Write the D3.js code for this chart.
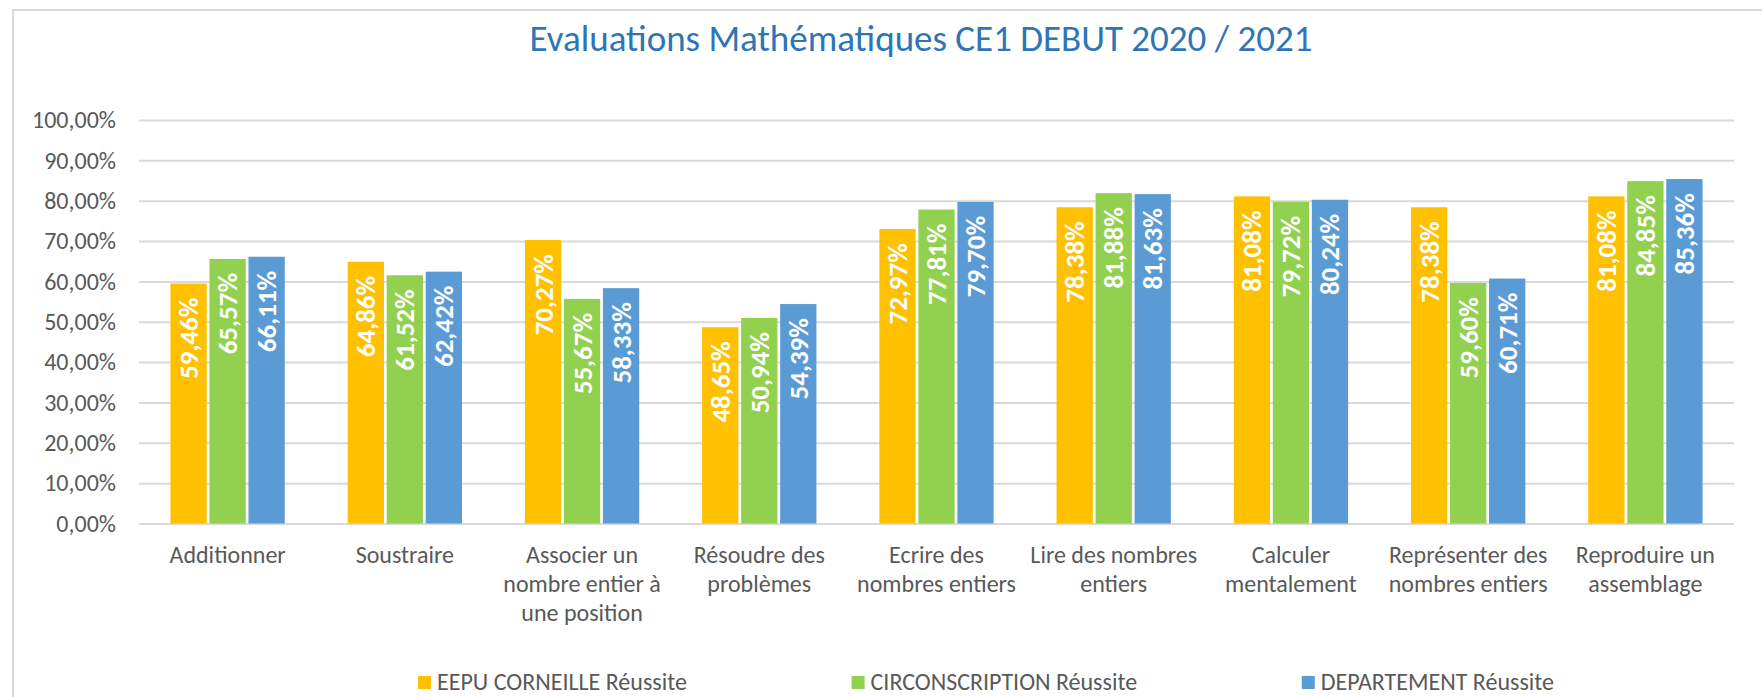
<!DOCTYPE html>
<html>
<head>
<meta charset="utf-8">
<script src="https://cdn.jsdelivr.net/npm/d3@7"></script>
<style>
  body { margin: 0; background: #fff; }
  text { font-family: Carlito, Calibri, Lato, sans-serif; }
</style>
</head>
<body>
<div id="chart"></div>
<script>

/* data */
const categories = [
  "Additionner",
  "Soustraire",
  "Associer un\nnombre entier à\nune position",
  "Résoudre des\nproblèmes",
  "Ecrire des\nnombres entiers",
  "Lire des nombres\nentiers",
  "Calculer\nmentalement",
  "Représenter des\nnombres entiers",
  "Reproduire un\nassemblage"
];
const seriesNames = ["EEPU CORNEILLE Réussite", "CIRCONSCRIPTION Réussite", "DEPARTEMENT Réussite"];
const ecole = [0.5946, 0.6486, 0.7027, 0.4865, 0.7297, 0.7838, 0.8108, 0.7838, 0.8108];
const circo = [0.6557, 0.6152, 0.5567, 0.5094, 0.7781, 0.8188, 0.7972, 0.5960, 0.8485];
const depart = [0.6611, 0.6242, 0.5833, 0.5439, 0.7970, 0.8163, 0.8024, 0.6071, 0.8536];
const yTicks = [0, 0.1, 0.2, 0.3, 0.4, 0.5, 0.6, 0.7, 0.8, 0.9, 1];
const title = "Evaluations Mathématiques CE1 DEBUT 2020 / 2021";

const colors = ["#FFC000", "#92D050", "#5B9BD5"];

/* layout */
let width = 1762;
let height = 697;
let margin = {top: 120, bottom: 173.5, left: 139, right: 28};

const fr = d3.formatLocale({decimal: ",", thousands: " ", grouping: [3], currency: ["", " €"]});
const pct = fr.format(".2%");

let svg = d3.select("#chart")
            .append("svg")
              .attr("width", width)
              .attr("height", height);

// chart frame (cut off on the right and bottom like the screenshot)
svg.append("rect")
   .attr("x", 13).attr("y", 10)
   .attr("width", width + 50).attr("height", height + 50)
   .attr("fill", "#fff")
   .attr("stroke", "#D9D9D9")
   .attr("stroke-width", 2);

svg.append("text")
   .attr("x", 921)
   .attr("y", 51)
   .attr("text-anchor", "middle")
   .attr("fill", "#2E75B6")
   .style("font-size", "37px")
   .text(title);

let x0 = d3.scaleBand()
           .domain(categories)
           .range([margin.left, width - margin.right])
           .paddingInner(0.355)
           .paddingOuter(0.1775);

let x1 = d3.scaleBand()
           .domain(d3.range(3))
           .range([0, x0.bandwidth()])
           .paddingInner(0.07);

let y = d3.scaleLinear()
          .domain([0, 1])
          .range([height - margin.bottom, margin.top]);

// gridlines + y labels
let yAxis = svg.append("g")
               .attr("transform", `translate(${margin.left}, 0)`)
               .call(d3.axisLeft(y)
                       .tickValues(yTicks)
                       .tickFormat(pct)
                       .tickSize(-(width - margin.left - margin.right))
                       .tickPadding(23));
yAxis.select(".domain").remove();
yAxis.selectAll("line").attr("stroke", "#D9D9D9").attr("stroke-width", 2);
yAxis.selectAll("text")
     .attr("fill", "#595959")
     .style("font-size", "24px")
     .style("font-family", "Carlito, Calibri, Lato, sans-serif");

// bars
let table = categories.map((c, i) => ({cat: c, values: [ecole[i], circo[i], depart[i]]}));

let groups = svg.append("g")
                .selectAll("g")
                .data(table)
                .enter()
                .append("g")
                  .attr("transform", d => `translate(${x0(d.cat)}, 0)`);

groups.selectAll("rect")
      .data(d => d.values)
      .enter()
      .append("rect")
        .attr("x", (d, i) => x1(i))
        .attr("y", d => y(d))
        .attr("width", x1.bandwidth())
        .attr("height", d => y(0) - y(d))
        .attr("fill", (d, i) => colors[i]);

groups.selectAll("text")
      .data(d => d.values)
      .enter()
      .append("text")
        .attr("transform", (d, i) => `translate(${x1(i) + x1.bandwidth() / 2}, ${y(d) + 14}) rotate(-90)`)
        .attr("text-anchor", "end")
        .attr("dominant-baseline", "central")
        .attr("fill", "#fff")
        .style("font-size", "27px")
        .style("font-weight", "bold")
        .text(d => pct(d));

// category labels
let catLabels = svg.append("g")
                   .selectAll("text")
                   .data(categories)
                   .enter()
                   .append("text")
                     .attr("x", d => x0(d) + x0.bandwidth() / 2)
                     .attr("y", 563)
                     .attr("text-anchor", "middle")
                     .attr("fill", "#595959")
                     .style("font-size", "24px");

catLabels.selectAll("tspan")
         .data(d => d.split("\n"))
         .enter()
         .append("tspan")
           .attr("x", function() { return this.parentNode.getAttribute("x"); })
           .attr("dy", (d, i) => i === 0 ? 0 : 29)
           .text(d => d);

// legend
let legend = svg.append("g");
let items = legend.selectAll("g")
                  .data(seriesNames)
                  .enter()
                  .append("g");

items.append("rect")
     .attr("width", 13).attr("height", 13)
     .attr("y", 676)
     .attr("fill", (d, i) => colors[i]);

items.append("text")
     .attr("x", 19)
     .attr("y", 690)
     .attr("fill", "#595959")
     .style("font-size", "24px")
     .text(d => d);

let widths = [];
items.select("text").each(function() { widths.push(19 + this.getComputedTextLength()); });
let legStart = 418, legEnd = 1554;
let gap = (legEnd - legStart - d3.sum(widths)) / 2;
let pos = legStart;
items.attr("transform", (d, i) => {
  let p = pos;
  pos += widths[i] + gap;
  return `translate(${p}, 0)`;
});

</script>
</body>
</html>
